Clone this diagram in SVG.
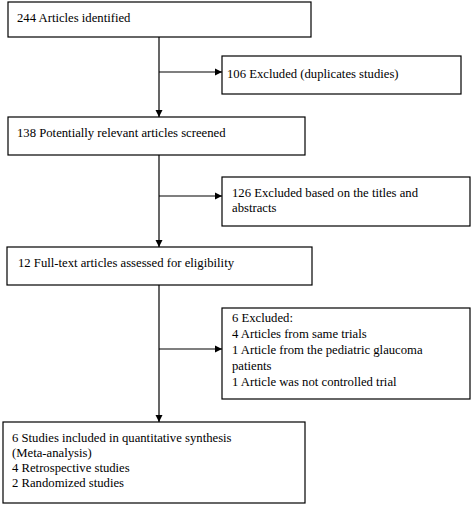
<svg xmlns="http://www.w3.org/2000/svg" width="472" height="505" viewBox="0 0 472 505">
<defs>
<marker id="ah" markerWidth="8" markerHeight="8" refX="7" refY="4" orient="auto" markerUnits="userSpaceOnUse">
<path d="M0,0.5 L7,4 L0,7.5 Z" fill="#000"/>
</marker>
</defs>
<style>
rect{fill:#fff;stroke:#000;stroke-width:1.2}
text{font-family:'Liberation Serif','Times New Roman','DejaVu Serif',serif;font-size:12.7px;fill:#000}
.c{stroke:#000;stroke-width:1.2;fill:none}
</style>
<rect x="0" y="0" width="472" height="505" style="stroke:none"/>
<g id="n1"><rect x="8" y="2" width="303" height="35"/><text x="17" y="22">244 Articles identified</text></g>
<g id="e1"><rect x="222" y="56" width="239" height="38"/><text x="227" y="78">106 Excluded (duplicates studies)</text></g>
<g id="n2"><rect x="8" y="117" width="297" height="38"/><text x="17" y="137">138 Potentially relevant articles screened</text></g>
<g id="e2"><rect x="222" y="177" width="248" height="49"/><text x="232" y="197">126 Excluded based on the titles and</text><text x="232" y="212">abstracts</text></g>
<g id="n3"><rect x="7" y="247" width="305" height="38"/><text x="18" y="267">12 Full-text articles assessed for eligibility</text></g>
<g id="e3"><rect x="222" y="308" width="248" height="91"/><text x="232" y="322">6 Excluded:</text><text x="232" y="338">4 Articles from same trials</text><text x="232" y="354">1 Article from the pediatric glaucoma</text><text x="232" y="370">patients</text><text x="232" y="386">1 Article was not controlled trial</text></g>
<g id="n4"><rect x="3" y="422" width="302" height="81"/><text x="12" y="442">6 Studies included in quantitative synthesis</text><text x="12" y="457">(Meta-analysis)</text><text x="12" y="472">4 Retrospective studies</text><text x="12" y="487">2 Randomized studies</text></g>
<g id="connectors">
<path class="c" d="M159,37 V117" marker-end="url(#ah)"/>
<path class="c" d="M159,72 H222" marker-end="url(#ah)"/>
<path class="c" d="M159,155 V247" marker-end="url(#ah)"/>
<path class="c" d="M159,196 H222" marker-end="url(#ah)"/>
<path class="c" d="M159,285 V422" marker-end="url(#ah)"/>
<path class="c" d="M159,349 H222" marker-end="url(#ah)"/>
</g>
</svg>
